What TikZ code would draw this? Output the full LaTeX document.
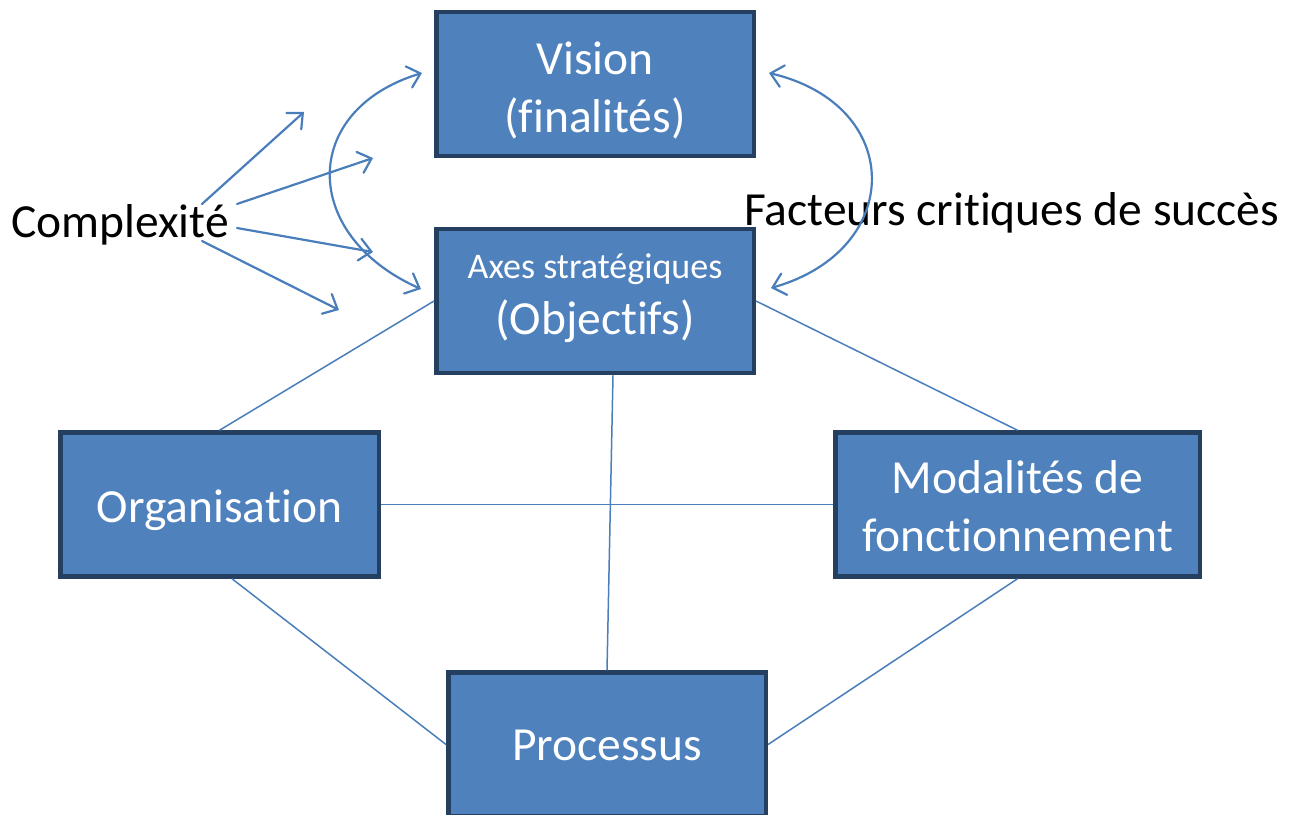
\documentclass[tikz,border=0pt]{standalone}
\usepackage{fontspec}
\setmainfont[RawFeature={-liga;-dlig;-clig}]{Carlito}
\usetikzlibrary{arrows.meta,calc}
\definecolor{boxfill}{HTML}{4F81BD}
\definecolor{boxedge}{HTML}{243F60}
\definecolor{linkblue}{HTML}{4A7EBB}
% move a line of text vertically without changing its box
\newcommand\nudge[2]{\raisebox{#1}[\height][\depth]{#2}}
\begin{document}
\begin{tikzpicture}[x=1pt,y=-1pt,
  box/.style={draw=boxedge,fill=boxfill,line width=4.5pt,text=white,
    inner sep=0pt,align=center,minimum height=144pt,
    font=\fontsize{47.5}{58}\selectfont},
  link/.style={draw=linkblue,line width=1.5pt},
  arr/.style={draw=linkblue,line width=2.2pt,line cap=round,
    -{Straight Barb[length=12pt,width=22pt,line cap=round]}},
  twoarr/.style={draw=linkblue,line width=2.2pt,line cap=round,
    {Straight Barb[length=12pt,width=22pt,line cap=round]}-{Straight Barb[length=12pt,width=22pt,line cap=round]}},
  lbl/.style={font=\fontsize{47.5}{58}\selectfont,inner sep=0pt,text=black}]
\useasboundingbox (0,0) rectangle (1300,814);

% boxes
\node[box,minimum width=317.5pt] (vision) at (595,84)
  {\nudge{-6pt}{Vision}\\\nudge{-6pt}{(finalités)}};
\node[box,minimum width=317.5pt] (axes) at (595,301)
  {\nudge{3pt}{\fontsize{36}{56}\selectfont Axes stratégiques}\\[-2pt]\nudge{3pt}{(Objectifs)}};
\node[box,minimum width=318.5pt] (org) at (219.5,504.5) {\nudge{-6pt}{Organisation}};
\node[box,minimum width=364.5pt] (mod) at (1017.5,504.5)
  {\nudge{-2pt}{Modalités de}\\\nudge{-2pt}{fonctionnement}};
\node[box,minimum width=317.5pt] (proc) at (607,744.5) {\nudge{-1pt}{Processus}};

% free labels
\node[lbl,anchor=base west] (cplx) at (11,237) {Complexité};
\node[lbl,anchor=base west] (fcs) at (744,225) {Facteurs critiques de succès};

% links between boxes
\draw[link] (axes.west) -- (org.north);
\draw[link] (axes.east) -- (mod.north);
\draw[link] ($(axes.south)+(18,0)$) -- (proc.north);
\draw[link] (org.east) -- (mod.west);
\draw[link] ($(org.south)+(12.5,0)$) -- (proc.west);
\draw[link] (mod.south) -- (proc.east);

% arrows leaving "Complexité"
\coordinate (c1s) at (202,204); \coordinate (c1e) at (304,112);
\coordinate (c2s) at (237,204); \coordinate (c2e) at (373,158);
\coordinate (c3s) at (237,228); \coordinate (c3e) at (373,252);
\coordinate (c4s) at (202,241); \coordinate (c4e) at (339,310);
\draw[arr] (c1s) -- (c1e);
\draw[arr] (c2s) -- (c2e);
\draw[arr] (c3s) -- (c3e);
\draw[arr] (c4s) -- (c4e);

% curved double arrows beside the two upper boxes
\coordinate (l1) at (422,73); \coordinate (l2) at (421,289);
\coordinate (r1) at (769,73); \coordinate (r2) at (771,288);
\draw[twoarr] (l1) .. controls (300,110) and (300,235) .. (l2);
\draw[twoarr] (r1) .. controls (905,105) and (905,250) .. (r2);
\end{tikzpicture}
\end{document}
